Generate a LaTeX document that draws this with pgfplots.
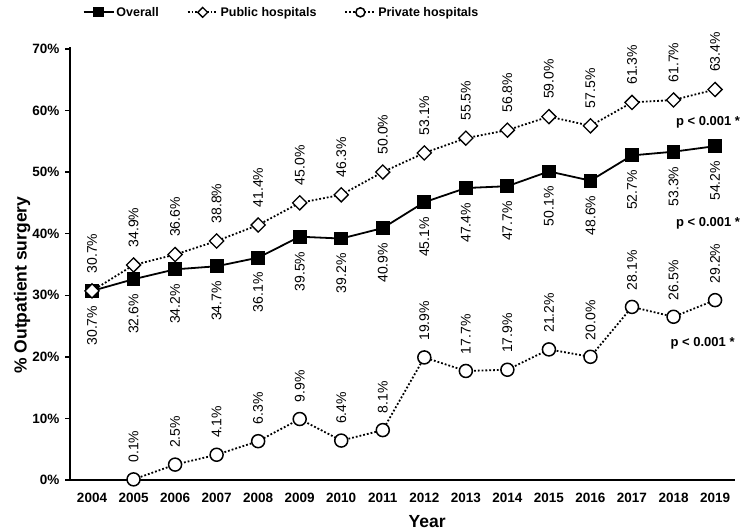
\documentclass[border=0pt]{standalone}
\usepackage{fontspec}
\setmainfont{Liberation Sans}
\usepackage{pgfplots}
\pgfplotsset{compat=1.18}
\begin{document}
\begin{tikzpicture}
\useasboundingbox (-70pt,-52pt) rectangle (679pt,480pt);
\begin{axis}[
  scale only axis, width=665pt, height=433pt,
  xmin=2003.47, xmax=2019.48, ymin=0, ymax=70.3,
  axis lines*=left,
  axis line style={line width=1.8pt},
  xtick={2004,2005,2006,2007,2008,2009,2010,2011,2012,2013,2014,2015,2016,2017,2018,2019},
  xticklabels={2004,2005,2006,2007,2008,2009,2010,2011,2012,2013,2014,2015,2016,2017,2018,2019},
  ytick={0,10,20,30,40,50,60,70},
  yticklabels={0\%,10\%,20\%,30\%,40\%,50\%,60\%,70\%},
  x tick style={draw=none},
  y tick style={line width=1.4pt, black},
  tick align=outside, major tick length=5pt,
  ticklabel style={font=\fontsize{13.5}{16}\selectfont\bfseries},
  xticklabel style={yshift=-5pt},
  yticklabel style={xshift=-2pt},
  xlabel={Year}, ylabel={\% Outpatient surgery},
  label style={font=\fontsize{17.5}{20}\selectfont\bfseries},
  xlabel style={at={(axis description cs:0.537,-0.097)},anchor=center},
  ylabel style={at={(axis description cs:-0.072,0.45)},anchor=center,rotate=0},
  clip=false,
  point meta=explicit symbolic,
  nodes near coords={\fontsize{14}{16}\selectfont\pgfplotspointmeta},
  every node near coord/.append style={rotate=90},
  legend style={at={(axis description cs:0.318,1.08)}, anchor=center, draw=none, fill=none,
    legend columns=3, font=\fontsize{12.5}{15}\selectfont\bfseries,
    /tikz/every even column/.append style={column sep=26pt}},
  legend image code/.code={\draw[#1, every mark/.append style={scale=0.7}, mark repeat=2, mark phase=2] plot coordinates {(0pt,0pt) (15pt,0pt) (30pt,0pt)};},
]
\addplot[black, line width=1.8pt, mark=square*, mark size=6pt, mark options={solid},
  every node near coord/.append style={anchor=east, inner xsep=14pt}]
  coordinates {
  (2004,30.7) [30.7\%] (2005,32.6) [32.6\%] (2006,34.2) [34.2\%] (2007,34.7) [34.7\%]
  (2008,36.1) [36.1\%] (2009,39.5) [39.5\%] (2010,39.2) [39.2\%] (2011,40.9) [40.9\%]
  (2012,45.1) [45.1\%] (2013,47.4) [47.4\%] (2014,47.7) [47.7\%] (2015,50.1) [50.1\%]
  (2016,48.6) [48.6\%] (2017,52.7) [52.7\%] (2018,53.3) [53.3\%] (2019,54.2) [54.2\%]
  };
\addlegendentry{Overall}
\addplot[black, line width=1.8pt, dash pattern=on 1.8pt off 2pt, mark=square*, mark size=5pt,
  mark options={solid, fill=white, rotate=45, line width=1.3pt},
  every node near coord/.append style={anchor=west, inner xsep=17pt}]
  coordinates {
  (2004,30.7) [30.7\%] (2005,34.9) [34.9\%] (2006,36.6) [36.6\%] (2007,38.8) [38.8\%]
  (2008,41.4) [41.4\%] (2009,45.0) [45.0\%] (2010,46.3) [46.3\%] (2011,50.0) [50.0\%]
  (2012,53.1) [53.1\%] (2013,55.5) [55.5\%] (2014,56.8) [56.8\%] (2015,59.0) [59.0\%]
  (2016,57.5) [57.5\%] (2017,61.3) [61.3\%] (2018,61.7) [61.7\%] (2019,63.4) [63.4\%]
  };
\addlegendentry{Public hospitals}
\addplot[black, line width=1.8pt, dash pattern=on 1.8pt off 2pt, mark=*, mark size=6.5pt,
  mark options={solid, fill=white, line width=1.5pt},
  every node near coord/.append style={anchor=west, inner xsep=16pt}]
  coordinates {
  (2005,0.1) [0.1\%] (2006,2.5) [2.5\%] (2007,4.1) [4.1\%]
  (2008,6.3) [6.3\%] (2009,9.9) [9.9\%] (2010,6.4) [6.4\%] (2011,8.1) [8.1\%]
  (2012,19.9) [19.9\%] (2013,17.7) [17.7\%] (2014,17.9) [17.9\%] (2015,21.2) [21.2\%]
  (2016,20.0) [20.0\%] (2017,28.1) [28.1\%] (2018,26.5) [26.5\%] (2019,29.2) [29.2\%]
  };
\addlegendentry{Private hospitals}
\node[font=\fontsize{13}{15}\selectfont\bfseries] at (axis cs:2018.83,58.1) {p < 0.001 *};
\node[font=\fontsize{13}{15}\selectfont\bfseries] at (axis cs:2018.83,41.7) {p < 0.001 *};
\node[font=\fontsize{13}{15}\selectfont\bfseries] at (axis cs:2018.70,22.2) {p < 0.001 *};
\end{axis}
\end{tikzpicture}
\end{document}
